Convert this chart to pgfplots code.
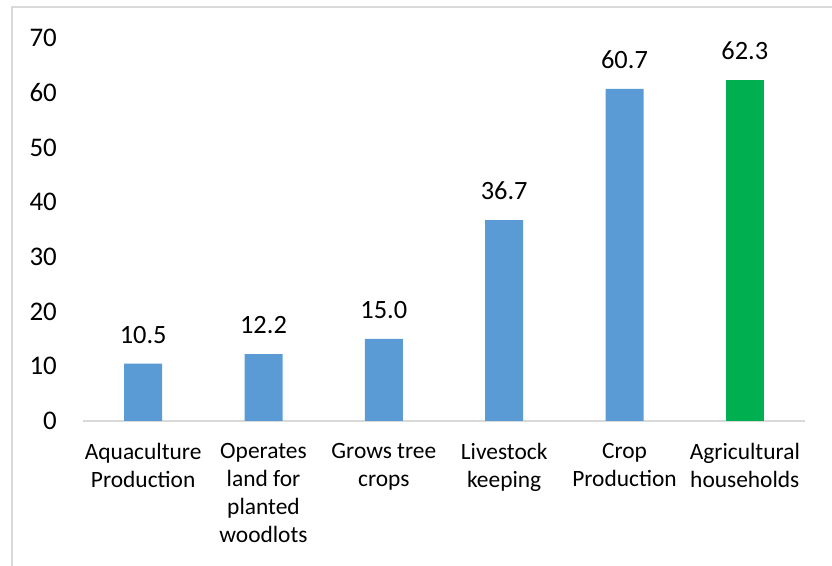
\documentclass[border=0pt]{standalone}
\usepackage{pgfplots}
\pgfplotsset{compat=1.18}
\usepackage{fontspec}
\setmainfont{Carlito}
\definecolor{barblue}{HTML}{5B9BD5}
\definecolor{bargreen}{HTML}{00B050}
\definecolor{framegray}{HTML}{D9D9D9}
\begin{document}
\begin{tikzpicture}
\path[use as bounding box] (0bp,0bp) rectangle (832bp,566bp);
\draw[framegray, line width=1.5bp] (12bp,-5bp) -- (12bp,559bp) -- (840bp,559bp);
\begin{axis}[
    at={(83bp,145bp)}, anchor=south west,
    scale only axis, width=722bp, height=383bp,
    xmin=-0.5, xmax=5.5, ymin=0, ymax=70,
    ytick={0,10,...,70},
    xtick={0,...,5},
    xticklabels={{Aquaculture\\Production},{Operates\\land for\\planted\\woodlots},{Grows tree\\crops},{Livestock\\keeping},{Crop\\Production},{Agricultural\\households}},
    axis x line*=bottom, axis y line*=left,
    y axis line style={draw=none},
    x axis line style={draw=framegray, line width=1.5bp, -},
    major tick length=0pt, tick style={draw=none},
    /pgf/number format/assume math mode=true,
    yticklabel style={font=\fontsize{27}{30}\selectfont, inner sep=0pt, xshift=-26bp},
    xticklabel style={font=\fontsize{23.5}{28}\selectfont, align=center, anchor=north, inner sep=0pt, yshift=-22bp},
    nodes near coords={\pgfmathprintnumber[fixed,fixed zerofill,precision=1]{\pgfplotspointmeta}},
    every node near coord/.append style={font=\fontsize{26.5}{30}\selectfont, text=black, anchor=south, inner sep=0pt, yshift=20bp},
]
\addplot[ybar, bar width=38bp, bar shift=0pt, fill=barblue, draw=none]
    coordinates {(0,10.5) (1,12.2) (2,15.0) (3,36.7) (4,60.7)};
\addplot[ybar, bar width=38bp, bar shift=0pt, fill=bargreen, draw=none]
    coordinates {(5,62.3)};
\end{axis}
\end{tikzpicture}
\end{document}
